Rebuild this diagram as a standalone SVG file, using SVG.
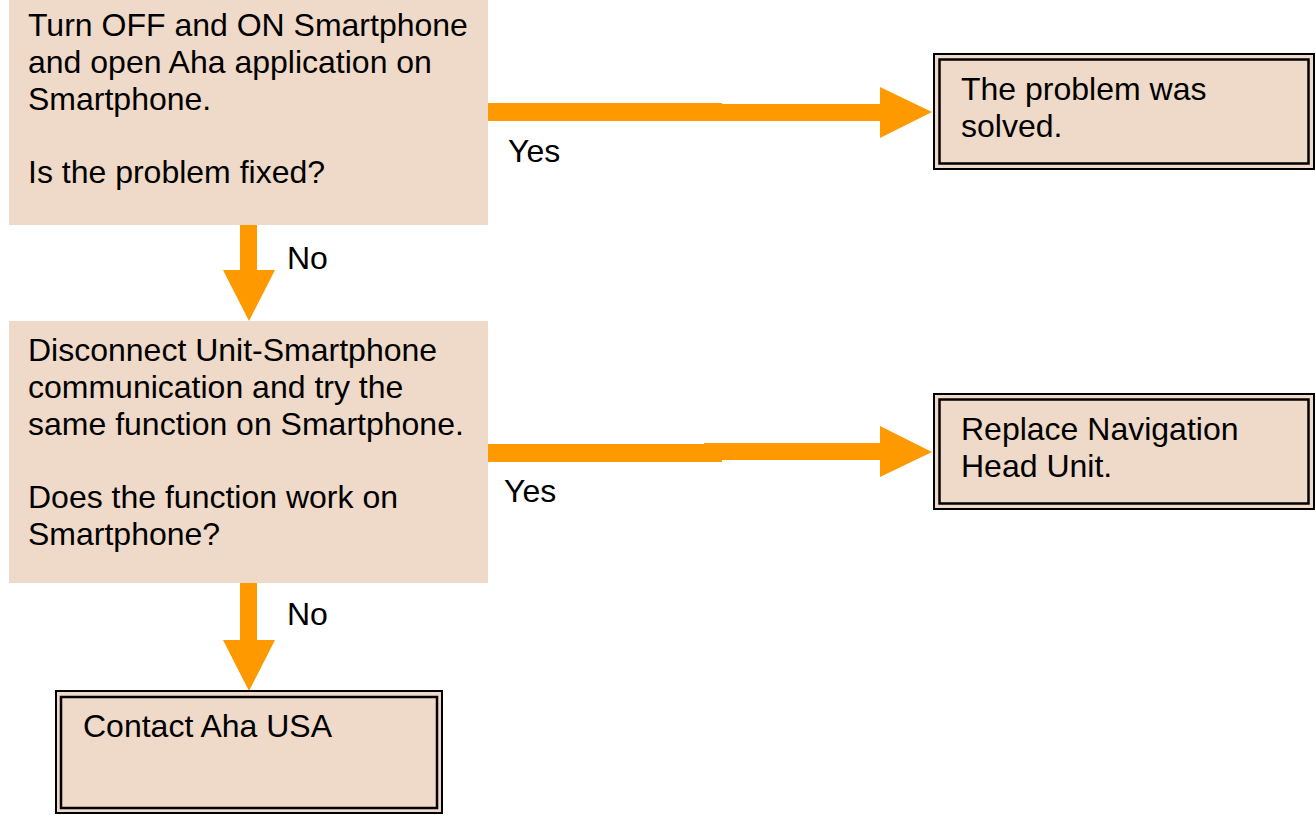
<svg xmlns="http://www.w3.org/2000/svg" width="1316" height="815" viewBox="0 0 1316 815">
<style>
.box{fill:#EFD9C8;stroke:none}
.outer{fill:#EFD9C8;stroke:#000;stroke-width:2}
.inner{fill:none;stroke:#000;stroke-width:2.5}
.t{font-family:"Liberation Sans",Arial,sans-serif;font-size:32px;fill:#000}
.arr{fill:#FF9900;stroke:none}
</style>
<rect width="1316" height="815" fill="#fff"/>
<g id="connectors">
<rect class="arr" x="488" y="103" width="234" height="18"/>
<rect class="arr" x="704" y="104" width="178" height="17"/>
<polygon class="arr" points="880,87 932,112 880,138"/>
<rect class="arr" x="488" y="444" width="234" height="18"/>
<rect class="arr" x="704" y="443" width="178" height="17"/>
<polygon class="arr" points="880,426 932,452 880,477"/>
<rect class="arr" x="240" y="225" width="17" height="46"/>
<polygon class="arr" points="223,270 275,270 249,321"/>
<rect class="arr" x="240" y="583" width="17" height="58"/>
<polygon class="arr" points="223,640 275,640 249,691"/>
<text class="t" x="508" y="162">Yes</text>
<text class="t" x="504" y="502">Yes</text>
<text class="t" x="287" y="269">No</text>
<text class="t" x="287" y="625">No</text>
</g>
<g id="n1">
<rect class="box" x="9" y="0" width="479" height="225"/>
<text class="t" x="28" y="36">Turn OFF and ON Smartphone</text>
<text class="t" x="28" y="73">and open Aha application on</text>
<text class="t" x="28" y="110">Smartphone.</text>
<text class="t" x="28" y="183">Is the problem fixed?</text>
</g>
<g id="n2">
<rect class="box" x="9" y="321" width="479" height="262"/>
<text class="t" x="28" y="361">Disconnect Unit-Smartphone</text>
<text class="t" x="28" y="398">communication and try the</text>
<text class="t" x="28" y="435">same function on Smartphone.</text>
<text class="t" x="28" y="508">Does the function work on</text>
<text class="t" x="28" y="545">Smartphone?</text>
</g>
<g id="n3">
<rect class="outer" x="934" y="54" width="380" height="115"/>
<rect class="inner" x="939.5" y="59.5" width="369" height="104"/>
<text class="t" x="961" y="100">The problem was</text>
<text class="t" x="961" y="137">solved.</text>
</g>
<g id="n4">
<rect class="outer" x="934" y="394" width="380" height="115"/>
<rect class="inner" x="939.5" y="399.5" width="369" height="104"/>
<text class="t" x="961" y="440">Replace Navigation</text>
<text class="t" x="961" y="477">Head Unit.</text>
</g>
<g id="n5">
<rect class="outer" x="56" y="691" width="386" height="122"/>
<rect class="inner" x="61" y="697" width="376" height="111"/>
<text class="t" x="83" y="737">Contact Aha USA</text>
</g>
</svg>
